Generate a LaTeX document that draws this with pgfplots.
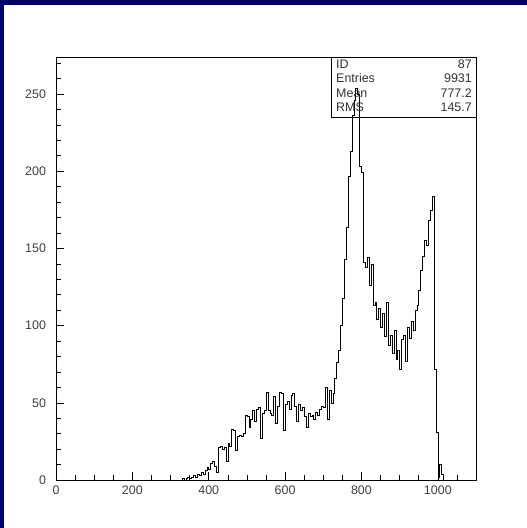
\documentclass[border=0pt]{standalone}
\usepackage{pgfplots}
\pgfplotsset{compat=1.18}
\usepackage{fontspec}
\setmainfont{Liberation Sans}
\definecolor{slideblue}{RGB}{0,0,102}
\pgfplotstableread{
x y
325 0
330 1
335 0
340 1
345 2
350 1
355 2
360 3
365 2
370 4
375 3
380 5
385 4
390 6
395 8
400 7
405 11
410 12
415 9
420 5
425 21
430 22
435 20
440 21
445 12
450 24
455 22
460 33
465 32
470 19
475 28
480 29
485 28
490 30
495 42
500 41
505 34
510 39
515 45
520 38
525 46
530 47
535 27
540 43
545 45
550 57
555 45
560 43
565 42
570 54
575 37
580 48
585 57
590 56
595 32
600 49
605 51
610 46
615 55
620 56
625 48
630 38
635 49
640 45
645 47
650 41
655 34
660 43
665 41
670 42
675 39
680 44
685 42
690 46
695 48
700 47
705 60
710 39
715 58
720 50
725 56
730 66
735 76
740 84
745 100
750 118
755 143
760 164
765 197
770 213
775 236
780 246
785 254
790 250
795 203
800 199
805 141
810 138
815 144
820 126
825 140
830 113
835 115
840 104
845 111
850 99
855 108
860 93
865 115
870 87
875 94
880 82
885 97
890 78
895 84
900 72
905 91
910 94
915 77
920 99
925 92
930 103
935 97
940 110
945 113
950 123
955 136
960 145
965 155
970 152
975 168
980 175
985 184
990 72
995 31
1000 2
1005 10
1010 4
1015 0
}\histdata
\begin{document}
\begin{tikzpicture}[x=1bp,y=1bp]
\fill[slideblue] (0,0) rectangle (527,528);
\fill[white] (4,0) rectangle (527,523);
\begin{axis}[
  at={(56bp,48bp)}, anchor=south west,
  scale only axis, width=420bp, height=423bp,
  xmin=0, xmax=1100, ymin=0, ymax=274,
  axis line style={black, line width=0.8bp},
  tick align=inside,
  tick pos=left,
  xtick={0,200,...,1000},
  minor xtick={50,100,...,1050},
  ytick={0,50,...,250},
  minor ytick={10,20,...,270},
  major tick length=8bp, minor tick length=5bp,
  tick style={black, line width=0.6bp},
  every tick label/.append style={font=\fontsize{12.5}{14}\selectfont, text=black!75},
  /pgf/number format/assume math mode=true,
  /pgf/number format/set thousands separator={},
  xticklabel style={yshift=-2.5bp},
  yticklabel style={xshift=-6.5bp},
  scaled ticks=false,
]
\addplot[const plot mark left, black, line width=0.6bp] table[x=x,y=y] {\histdata};
\end{axis}
\draw[black, line width=0.6bp] (331,471) -- (331,411) -- (476,411);
\begin{scope}[every node/.style={inner sep=0pt, font=\fontsize{12.5}{14}\selectfont, text=black!80}]
\node[anchor=west] at (336,464) {ID};
\node[anchor=west] at (336,449.5) {Entries};
\node[anchor=west] at (336,435) {Mean};
\node[anchor=west] at (336,421) {RMS};
\node[anchor=east] at (472,464) {87};
\node[anchor=east] at (472,449.5) {9931};
\node[anchor=east] at (472,435) {777.2};
\node[anchor=east] at (472,421) {145.7};
\end{scope}
\end{tikzpicture}
\end{document}
